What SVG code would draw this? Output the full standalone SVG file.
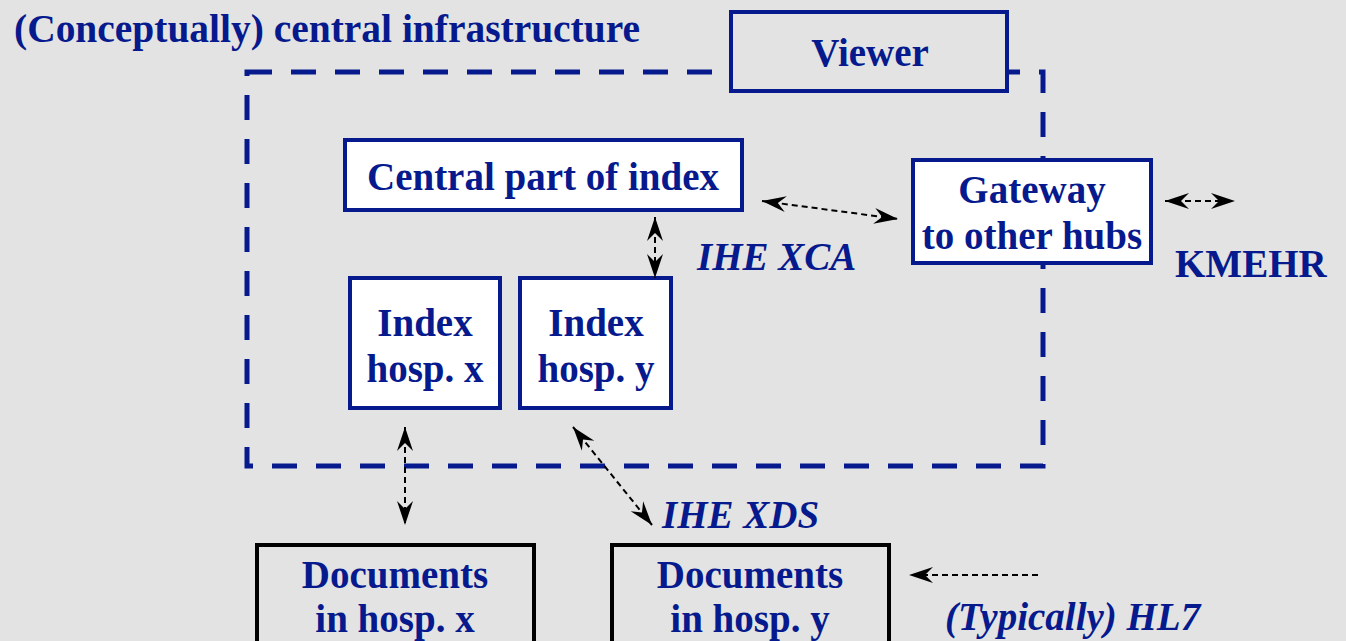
<svg xmlns="http://www.w3.org/2000/svg" width="1346" height="641" viewBox="0 0 1346 641">
<style>
.t{font-family:"Liberation Serif","Times New Roman",serif;font-weight:bold;font-size:39px;fill:#061a8e}
.c{text-anchor:middle}
.i{font-style:italic}
.bx{fill:#ffffff;stroke:#061a8e;stroke-width:4}
.bg{fill:#e3e3e3;stroke:#061a8e;stroke-width:4}
.dk{fill:#e3e3e3;stroke:#000000;stroke-width:4}
.cn{fill:none;stroke:#000000;stroke-width:2;stroke-dasharray:6 4}
</style>
<defs>
<marker id="ah" viewBox="-26 -10 28 20" refX="0" refY="0" markerWidth="28" markerHeight="20" markerUnits="userSpaceOnUse" orient="auto-start-reverse">
<path d="M0,0 L-24,-8 L-16,0 L-24,8 z" fill="#000000"/>
</marker>
</defs>
<rect x="0" y="0" width="1346" height="641" fill="#e3e3e3"/>
<g id="infrastructure">
<rect x="247" y="72" width="796" height="394" fill="none" stroke="#061a8e" stroke-width="5" stroke-dasharray="25 19"/>
<text class="t" x="14" y="42" textLength="626" lengthAdjust="spacingAndGlyphs" style="font-size:40px">(Conceptually) central infrastructure</text>
</g>
<g id="viewer">
<rect class="bg" x="731" y="12" width="276" height="79"/>
<text class="t c" x="870" y="66">Viewer</text>
</g>
<g id="central-index">
<rect class="bx" x="345" y="140" width="397" height="70"/>
<text class="t c" x="543" y="190">Central part of index</text>
</g>
<g id="gateway">
<rect class="bx" x="913" y="160" width="238" height="103"/>
<text class="t c" x="1032" y="203">Gateway</text>
<text class="t c" x="1032" y="249">to other hubs</text>
</g>
<g id="index-x">
<rect class="bx" x="350" y="278" width="150" height="130"/>
<text class="t c" x="425" y="336">Index</text>
<text class="t c" x="425" y="382">hosp. x</text>
</g>
<g id="index-y">
<rect class="bx" x="520" y="278" width="151" height="130"/>
<text class="t c" x="596" y="336">Index</text>
<text class="t c" x="596" y="382">hosp. y</text>
</g>
<g id="docs-x">
<rect class="dk" x="257" y="545" width="277" height="110"/>
<text class="t c" x="395" y="588">Documents</text>
<text class="t c" x="395" y="632">in hosp. x</text>
</g>
<g id="docs-y">
<rect class="dk" x="612" y="545" width="277" height="110"/>
<text class="t c" x="750" y="588">Documents</text>
<text class="t c" x="750" y="632">in hosp. y</text>
</g>
<g id="connectors">
<line class="cn" x1="762" y1="201" x2="898" y2="219" marker-start="url(#ah)" marker-end="url(#ah)"/>
<line class="cn" x1="655" y1="217" x2="655" y2="278" marker-start="url(#ah)" marker-end="url(#ah)"/>
<line class="cn" x1="1165" y1="201" x2="1235" y2="201" marker-start="url(#ah)" marker-end="url(#ah)"/>
<line class="cn" x1="405" y1="427" x2="405" y2="525" marker-start="url(#ah)" marker-end="url(#ah)"/>
<line class="cn" x1="573" y1="427" x2="652" y2="525" marker-start="url(#ah)" marker-end="url(#ah)"/>
<line class="cn" x1="1038" y1="575" x2="909" y2="575" marker-end="url(#ah)"/>
</g>
<g id="labels">
<text class="t i" x="697" y="270">IHE XCA</text>
<text class="t" x="1175" y="277">KMEHR</text>
<text class="t i" x="662" y="528">IHE XDS</text>
<text class="t i" x="945" y="630">(Typically) HL7</text>
</g>
</svg>
